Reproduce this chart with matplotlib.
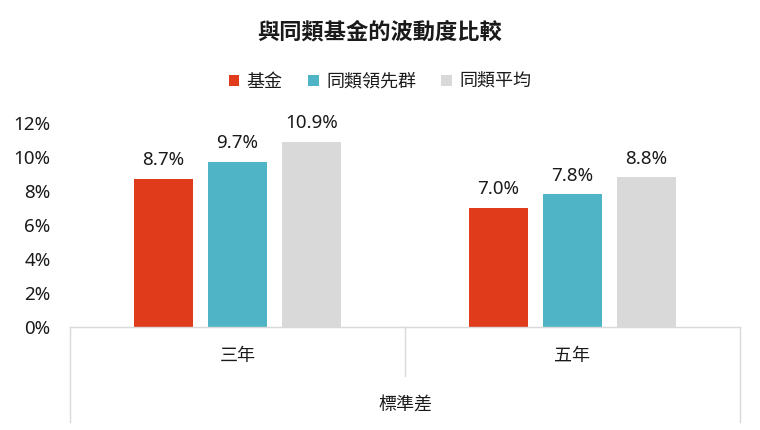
import matplotlib
matplotlib.use("Agg")
import matplotlib.pyplot as plt
import matplotlib.transforms as mtransforms
import numpy as np

plt.rcParams['font.family'] = ['Noto Sans', 'Noto Sans CJK TC', 'DejaVu Sans']

# data
categories = ["三年", "五年"]
group_label = "標準差"
series_names = ["基金", "同類領先群", "同類平均"]
fund = [8.7, 7.0]
leaders = [9.7, 7.8]
average = [10.9, 8.8]
yticks = [0, 2, 4, 6, 8, 10, 12]

colors = ["#E03C1C", "#4FB5C6", "#D9D9D9"]
line_col = "#D9D9D9"
txt = "#1A1A1A"

fig = plt.figure(figsize=(7.6, 4.3), dpi=100)
ax = fig.add_axes([70 / 760, (430 - 326.7) / 430, 670 / 760, 203.7 / 430])

x = np.arange(len(categories))
width = 0.176
step = 0.221
for i, (name, vals) in enumerate(zip(series_names, [fund, leaders, average])):
    bars = ax.bar(x + (i - 1) * step, vals, width, color=colors[i], label=name)
    for b, v in zip(bars, vals):
        ax.annotate(f"{v:.1f}%", (b.get_x() + b.get_width() / 2, v),
                    xytext=(0, 7), textcoords="offset points",
                    ha="center", va="bottom", fontsize=13.5, color=txt)

ax.set_xlim(-0.5, 1.5)
ax.set_ylim(0, 12)
ax.set_yticks(yticks)
ax.set_yticklabels([f"{t}%" for t in yticks], fontsize=13.5, color=txt)
ax.tick_params(axis="y", length=0, pad=14)
ax.set_xticks([])
for s in ["left", "top", "right"]:
    ax.spines[s].set_visible(False)
ax.spines["bottom"].set_color(line_col)
ax.spines["bottom"].set_linewidth(1)

# two-level category axis
trans = mtransforms.blended_transform_factory(ax.transData, ax.transAxes)
for xe in [-0.5, 1.5]:
    ax.plot([xe, xe], [0, -0.47], color=line_col, lw=1, transform=trans, clip_on=False)
ax.plot([0.5, 0.5], [0, -0.24], color=line_col, lw=1, transform=trans, clip_on=False)
for xi, c in zip(x, categories):
    ax.text(xi, -0.142, c, transform=trans, ha="center", va="center",
            fontsize=13, fontweight="medium", color=txt)
ax.text(0.5, -0.387, group_label, transform=trans, ha="center", va="center",
        fontsize=13, fontweight="medium", color=txt)

fig.text(0.5, 1 - 33 / 430, "與同類基金的波動度比較", ha="center", va="center",
         fontsize=16, fontweight="bold", color=txt)
leg = fig.legend(loc="center", bbox_to_anchor=(0.5, 1 - 82 / 430), ncol=3, frameon=False,
                 fontsize=13, handlelength=0.6, handleheight=0.6, handletextpad=0.4,
                 columnspacing=1.4)
for t in leg.get_texts():
    t.set_fontweight("medium")
    t.set_color(txt)

fig.savefig("out.png", dpi=100)
